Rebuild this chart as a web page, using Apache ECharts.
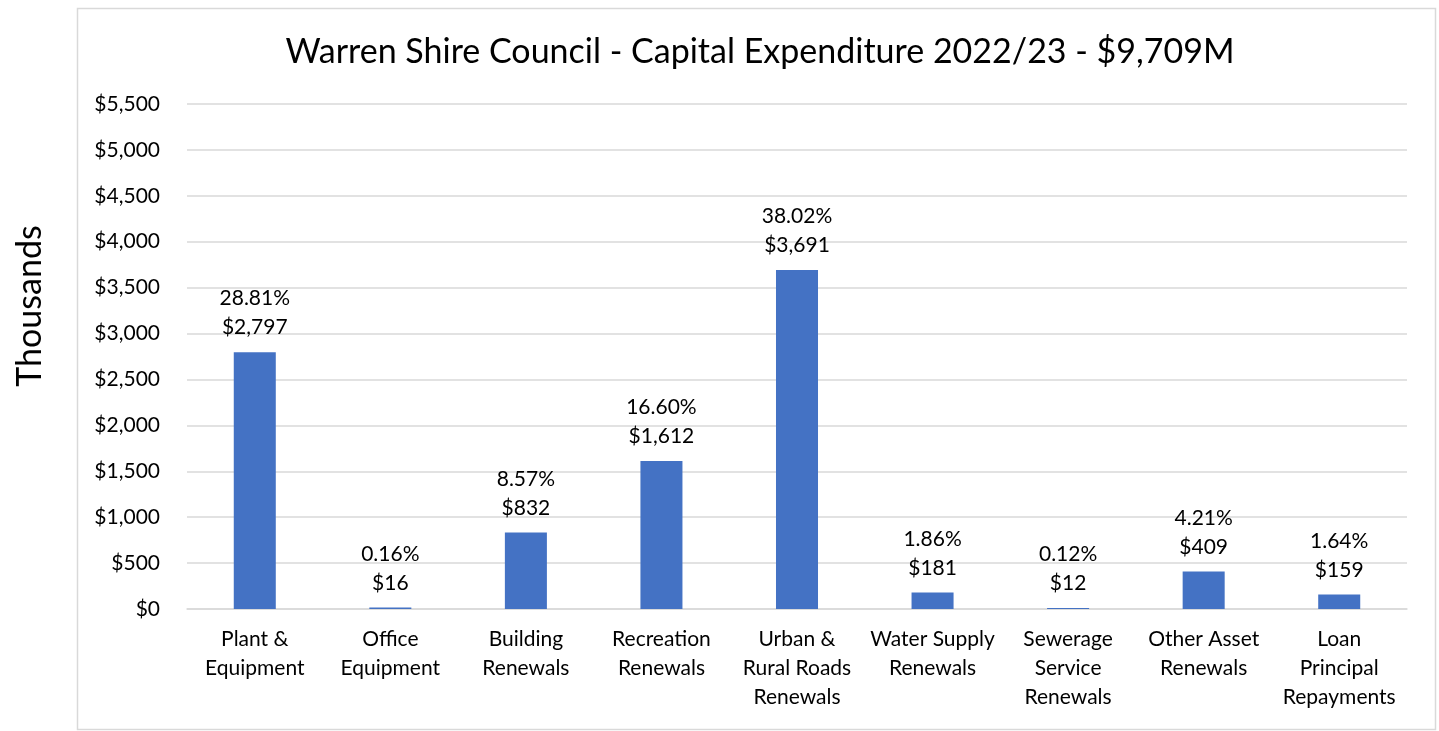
<!DOCTYPE html>
<html>
<head>
<meta charset="utf-8">
<script src="https://cdn.jsdelivr.net/npm/echarts@6/dist/echarts.min.js"></script>
<style>
  html, body { margin: 0; padding: 0; background: #fff; }
  #chart { width: 1439px; height: 731px; }
</style>
</head>
<body>
<div id="chart"></div>
<script>
// categories and values (thousands)
const categories = [
  'Plant &\nEquipment',
  'Office\nEquipment',
  'Building\nRenewals',
  'Recreation\nRenewals',
  'Urban &\nRural Roads\nRenewals',
  'Water Supply\nRenewals',
  'Sewerage\nService\nRenewals',
  'Other Asset\nRenewals',
  'Loan\nPrincipal\nRepayments'
]
const values = [2797, 16, 832, 1612, 3691, 181, 12, 409, 159]
const percents = ['28.81%', '0.16%', '8.57%', '16.60%', '38.02%', '1.86%', '0.12%', '4.21%', '1.64%']

const font = 'Lato, "Open Sans", sans-serif'
const chart = echarts.init(document.getElementById('chart'))

const option = {
  animation: false,
  graphic: [
    {
      type: 'rect',
      left: 75,
      top: 6,
      shape: { width: 1358, height: 721 },
      style: { fill: 'none', stroke: '#d9d9d9', lineWidth: 1.5 },
      z: -1
    },
    // axis title, sits a bit above the plot centre like the original
    {
      type: 'text',
      x: 30,
      y: 306,
      rotation: Math.PI / 2,
      style: {
        text: 'Thousands',
        fontFamily: font,
        fontSize: 34,
        fill: '#000',
        textAlign: 'center',
        textVerticalAlign: 'middle'
      }
    }
  ],
  title: {
    text: 'Warren Shire Council - Capital Expenditure 2022/23 - $9,709M',
    left: 755,
    textAlign: 'center',
    top: 30,
    textStyle: { fontFamily: font, fontSize: 34, fontWeight: 'normal', color: '#000' }
  },
  grid: { left: 187, right: 32, top: 104, bottom: 122 },
  xAxis: {
    type: 'category',
    data: categories,
    axisTick: { show: false },
    axisLine: { lineStyle: { color: '#d9d9d9', width: 1.5 } },
    axisLabel: {
      interval: 0,
      margin: 16,
      fontFamily: font,
      fontSize: 21,
      lineHeight: 29,
      color: '#000'
    }
  },
  yAxis: {
    type: 'value',
    min: 0,
    max: 5500,
    interval: 500,
    axisLabel: {
      margin: 27,
      fontFamily: font,
      fontSize: 21,
      color: '#000',
      formatter: v => '$' + v.toLocaleString('en-US')
    },
    splitLine: { lineStyle: { color: '#d9d9d9', width: 1.5 } }
  },
  series: [
    {
      type: 'bar',
      data: values,
      barWidth: '31%',
      itemStyle: { color: '#4472C4' },
      label: {
        show: true,
        position: 'top',
        distance: 10,
        fontFamily: font,
        fontSize: 21,
        lineHeight: 29,
        color: '#000',
        formatter: p => percents[p.dataIndex] + '\n$' + p.value.toLocaleString('en-US')
      }
    }
  ]
}
chart.setOption(option)
</script>
</body>
</html>
